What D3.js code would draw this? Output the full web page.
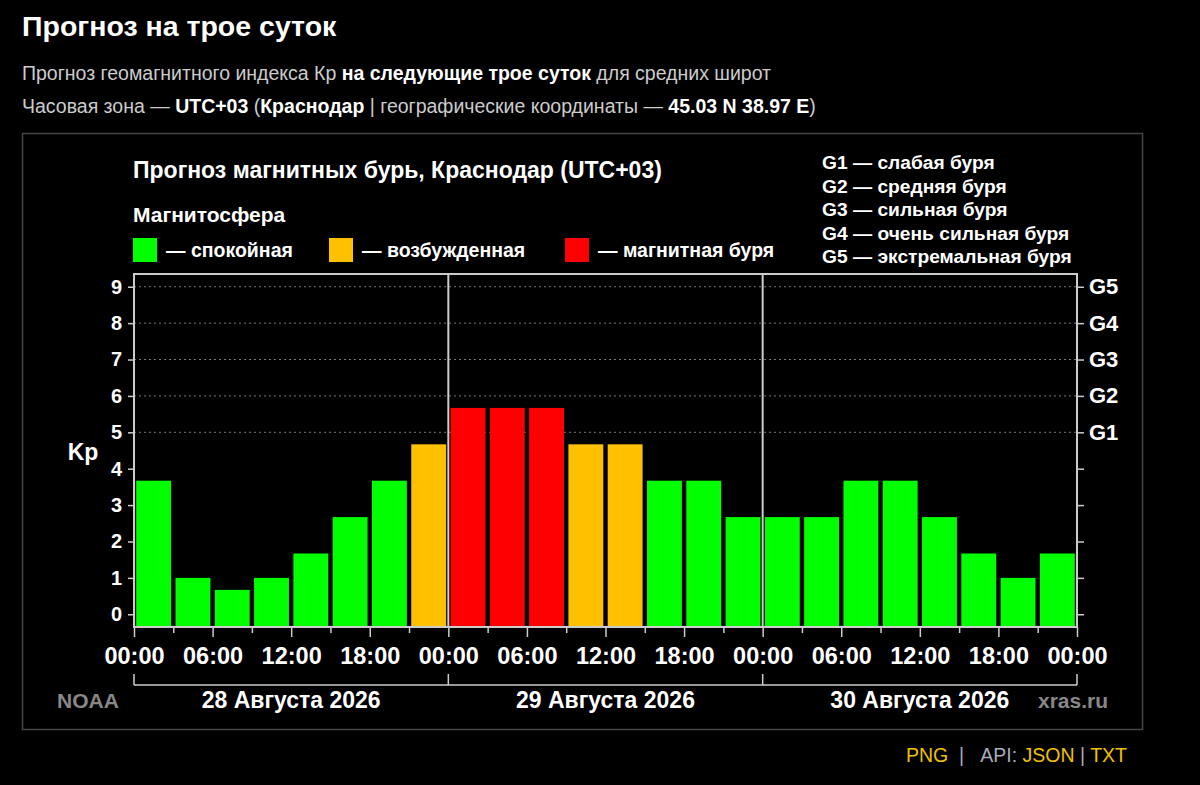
<!DOCTYPE html>
<html>
<head>
<meta charset="utf-8">
<script src="https://cdn.jsdelivr.net/npm/d3@7"></script>
<style>
  body { margin: 0; background: #000; }
  svg text { font-family: "Liberation Sans", Arial, sans-serif; }
</style>
</head>
<body>
<div id="chart"></div>
<script>
// Kp forecast, 3-hour steps over three days
var kp_values = [3.67, 1.00, 0.67, 1.00, 1.67, 2.67, 3.67, 4.67,
                 5.67, 5.67, 5.67, 4.67, 4.67, 3.67, 3.67, 2.67,
                 2.67, 2.67, 3.67, 3.67, 2.67, 1.67, 1.00, 1.67];
var day_labels = ["28 Августа 2026", "29 Августа 2026", "30 Августа 2026"];
var hour_labels = ["00:00", "06:00", "12:00", "18:00"];
var g_labels = {5: "G1", 6: "G2", 7: "G3", 8: "G4", 9: "G5"};
var g_legend = ["G1 — слабая буря", "G2 — средняя буря", "G3 — сильная буря",
                "G4 — очень сильная буря", "G5 — экстремальная буря"];
var state_legend = ["— спокойная", "— возбужденная", "— магнитная буря"];
var state_colors = ["#00ff00", "#ffc000", "#ff0000"];

function kpState(v) {
  if (v >= 5) return 2;
  if (v >= 4) return 1;
  return 0;
}

const width = 1200, height = 785;
const svg = d3.select("#chart").append("svg")
  .attr("width", width).attr("height", height);

// ---- page header ----
svg.append("text").attr("x", 22).attr("y", 36)
  .attr("fill", "#fff").attr("font-size", 28.5).attr("font-weight", "bold")
  .text("Прогноз на трое суток");

var line1 = svg.append("text").attr("x", 22).attr("y", 80)
  .attr("fill", "#ccc").attr("font-size", 19.5);
line1.append("tspan").text("Прогноз геомагнитного индекса Кр ");
line1.append("tspan").attr("fill", "#fff").attr("font-weight", "bold").text("на следующие трое суток");
line1.append("tspan").text(" для средних широт");

var line2 = svg.append("text").attr("x", 22).attr("y", 113)
  .attr("fill", "#ccc").attr("font-size", 19.5);
line2.append("tspan").text("Часовая зона — ");
line2.append("tspan").attr("fill", "#fff").attr("font-weight", "bold").text("UTC+03");
line2.append("tspan").text(" (");
line2.append("tspan").attr("fill", "#fff").attr("font-weight", "bold").text("Краснодар");
line2.append("tspan").text(" | географические координаты — ");
line2.append("tspan").attr("fill", "#fff").attr("font-weight", "bold").text("45.03 N 38.97 E");
line2.append("tspan").text(")");

// outer frame of the picture
svg.append("rect").attr("x", 22.5).attr("y", 133.5).attr("width", 1120).attr("height", 596)
  .attr("fill", "none").attr("stroke", "#444").attr("stroke-width", 1.5);

// ---- chart title + legends ----
svg.append("text").attr("x", 133).attr("y", 178)
  .attr("fill", "#fff").attr("font-size", 23).attr("font-weight", "bold")
  .text("Прогноз магнитных бурь, Краснодар (UTC+03)");
svg.append("text").attr("x", 133).attr("y", 222)
  .attr("fill", "#fff").attr("font-size", 21).attr("font-weight", "bold")
  .text("Магнитосфера");

var legend_x = [133, 329, 565];
state_legend.forEach(function(t, i) {
  svg.append("rect").attr("x", legend_x[i]).attr("y", 238).attr("width", 24).attr("height", 24)
    .attr("fill", state_colors[i]);
  svg.append("text").attr("x", legend_x[i] + 33).attr("y", 257)
    .attr("fill", "#fff").attr("font-size", 19.5).attr("font-weight", "bold").text(t);
});

g_legend.forEach(function(t, i) {
  svg.append("text").attr("x", 822).attr("y", 169 + i * 23.5)
    .attr("fill", "#fff").attr("font-size", 19.2).attr("font-weight", "bold").text(t);
});

// ---- scales ----
const x = d3.scaleLinear().domain([0, 72]).range([134, 1077]);
const y = d3.scaleLinear().domain([-0.35, 9.35]).range([627, 274]);

// dotted grid for storm levels
svg.append("g").selectAll("line")
  .data([5, 6, 7, 8, 9])
  .join("line")
  .attr("x1", x(0)).attr("x2", x(72))
  .attr("y1", d => y(d)).attr("y2", d => y(d))
  .attr("stroke", "#777").attr("stroke-width", 1).attr("stroke-dasharray", "2,3");

// bars
const pitch = x(3) - x(0);
svg.append("g").selectAll("rect")
  .data(kp_values)
  .join("rect")
  .attr("x", (d, i) => x(i * 3) + 2.2)
  .attr("width", pitch - 4.4)
  .attr("y", d => y(d))
  .attr("height", d => y(-0.35) - y(d))
  .attr("fill", d => state_colors[kpState(d)]);

// day separators
svg.append("g").selectAll("line")
  .data([24, 48])
  .join("line")
  .attr("x1", d => x(d)).attr("x2", d => x(d))
  .attr("y1", y(9.35)).attr("y2", y(-0.35))
  .attr("stroke", "#ccc").attr("stroke-width", 2);

// plot frame
svg.append("rect")
  .attr("x", x(0)).attr("y", y(9.35))
  .attr("width", x(72) - x(0)).attr("height", y(-0.35) - y(9.35))
  .attr("fill", "none").attr("stroke", "#ccc").attr("stroke-width", 2);

function styleAxis(g, size) {
  g.select(".domain").remove();
  g.selectAll(".tick line").attr("stroke", "#ccc").attr("stroke-width", 1.5);
  g.selectAll(".tick text").attr("fill", "#fff").attr("font-size", size)
    .attr("font-weight", "bold").attr("font-family", "Liberation Sans, Arial, sans-serif");
}

// left axis
svg.append("g")
  .attr("transform", `translate(${x(0)},0)`)
  .call(d3.axisLeft(y).tickValues(d3.range(0, 10)).tickSize(6).tickPadding(6).tickFormat(d3.format("d")))
  .call(styleAxis, 20);

// right axis with G-levels
svg.append("g")
  .attr("transform", `translate(${x(72)},0)`)
  .call(d3.axisRight(y).tickValues(d3.range(0, 10)).tickSize(7).tickPadding(5)
    .tickFormat(d => g_labels[d] || ""))
  .call(styleAxis, 22);

svg.append("text").attr("x", 83).attr("y", 460).attr("text-anchor", "middle")
  .attr("fill", "#fff").attr("font-size", 23).attr("font-weight", "bold").text("Kp");

// bottom axis: ticks every 3 hours, labels every 6
const xAxis = svg.append("g")
  .attr("transform", `translate(0,${y(-0.35)})`)
  .call(d3.axisBottom(x).tickValues(d3.range(0, 73, 3)).tickSize(10).tickPadding(10)
    .tickFormat(d => d % 6 === 0 ? hour_labels[(d % 24) / 6] : ""))
  .call(styleAxis, 23.5);
xAxis.selectAll(".tick line").attr("y2", d => d % 6 === 0 ? 10 : 6);

// day brackets
const bracket_y = 685;
svg.append("line").attr("x1", x(0)).attr("x2", x(72))
  .attr("y1", bracket_y).attr("y2", bracket_y)
  .attr("stroke", "#ccc").attr("stroke-width", 1.5);
svg.append("g").selectAll("line")
  .data([0, 24, 48, 72])
  .join("line")
  .attr("x1", d => x(d)).attr("x2", d => x(d))
  .attr("y1", bracket_y - 11).attr("y2", bracket_y)
  .attr("stroke", "#ccc").attr("stroke-width", 1.5);

svg.append("g").selectAll("text")
  .data(day_labels)
  .join("text")
  .attr("x", (d, i) => x(i * 24 + 12))
  .attr("y", 708)
  .attr("text-anchor", "middle")
  .attr("fill", "#fff").attr("font-size", 23).attr("font-weight", "bold")
  .text(d => d);

svg.append("text").attr("x", 57).attr("y", 708)
  .attr("fill", "#888").attr("font-size", 21).attr("font-weight", "bold").text("NOAA");
svg.append("text").attr("x", 1108).attr("y", 708).attr("text-anchor", "end")
  .attr("fill", "#888").attr("font-size", 21).attr("font-weight", "bold").text("xras.ru");

// footer links
var foot = svg.append("text").attr("x", 1127).attr("y", 762).attr("text-anchor", "end")
  .attr("font-size", 19.5).attr("fill", "#aab");
foot.append("tspan").attr("fill", "#f0c000").text("PNG");
foot.append("tspan").text("\u00a0\u00a0|\u00a0\u00a0\u00a0API: ");
foot.append("tspan").attr("fill", "#f0c000").text("JSON");
foot.append("tspan").text(" | ");
foot.append("tspan").attr("fill", "#f0c000").text("TXT");
</script>
</body>
</html>
